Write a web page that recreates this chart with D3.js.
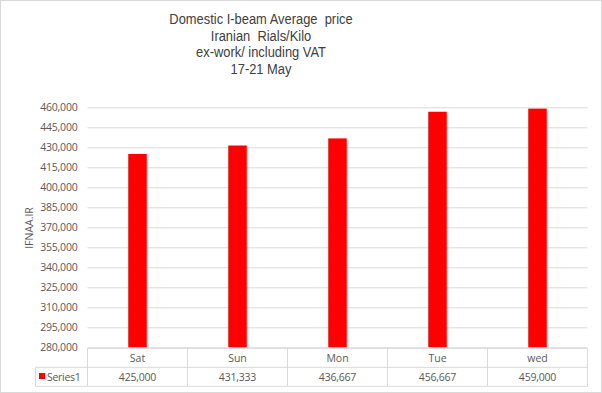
<!DOCTYPE html>
<html><head><meta charset="utf-8">
<script src="https://cdn.jsdelivr.net/npm/d3@7"></script>
<style>body{margin:0;background:#fff}svg{display:block}</style>
</head><body>
<script>
const categories = ["Sat", "Sun", "Mon", "Tue", "wed"];
const values = [425000, 431333, 436667, 456667, 459000];
const seriesName = "Series1";
const yTicks = [280000,295000,310000,325000,340000,355000,370000,385000,400000,415000,430000,445000,460000];
const titleLines = ["Domestic I-beam Average  price","Iranian  Rials/Kilo","ex-work/ including VAT","17-21 May"];
const yLabel = "IFNAA.IR";

(function(){
const W=602,H=393;
const svg=d3.select("body").append("svg").attr("width",W).attr("height",H);
svg.append("rect").attr("x",0.5).attr("y",0.5).attr("width",W-1).attr("height",H-1).attr("fill","#fff").attr("stroke","#d9d9d9");

const pL=87.5,pR=587.5,pT=107.3,pB=347.3;
const x=d3.scaleBand().domain(categories).range([pL,pR]);
const y=d3.scaleLinear().domain([280000,460000]).range([pB,pT]);
const fmt=d3.format(",");

const tf="'Liberation Sans',Arial,sans-serif";
const cf="'Open Sans','Noto Sans',sans-serif";

svg.append("g").attr("transform","translate(261,0) scale(0.89,1)")
 .selectAll("text").data(titleLines).join("text")
 .attr("x",0).attr("y",(d,i)=>24+i*16.7).attr("text-anchor","middle")
 .attr("font-family",tf).attr("font-size",14.5).attr("fill","#404040")
 .style("white-space","pre").text(d=>d);

const yAxis=d3.axisLeft(y).tickValues(yTicks).tickFormat(fmt).tickSize(-(pR-pL)).tickPadding(10);
const ga=svg.append("g").attr("transform",`translate(${pL},0)`).call(yAxis);
ga.select(".domain").remove();
ga.selectAll(".tick line").attr("stroke","#d9d9d9");
ga.selectAll(".tick text").attr("font-family",cf).attr("font-size",10.5).attr("fill","#595959").attr("letter-spacing","-0.2");

svg.append("text").attr("transform",`translate(33,228) rotate(-90)`).attr("text-anchor","middle")
 .attr("font-family",cf).attr("font-size",10.5).attr("fill","#595959").text(yLabel);

const bw=18.5;
svg.append("g").selectAll("rect").data(values).join("rect")
 .attr("x",(d,i)=>x(categories[i])+x.bandwidth()/2-bw/2).attr("width",bw)
 .attr("y",d=>y(d)).attr("height",d=>pB-y(d)).attr("fill","#ff0000");

const t0=348.3,t1=367.3,t2=386.3,tl=35.5;
const g=svg.append("g").attr("stroke","#d9d9d9").attr("fill","none");
g.append("line").attr("x1",pL).attr("x2",pR).attr("y1",t0).attr("y2",t0);
g.append("line").attr("x1",tl).attr("x2",pR).attr("y1",t1).attr("y2",t1);
g.append("line").attr("x1",tl).attr("x2",pR).attr("y1",t2).attr("y2",t2);
g.append("line").attr("x1",tl).attr("x2",tl).attr("y1",t1).attr("y2",t2);
[...categories.map(c=>x(c)),pR].forEach(v=>g.append("line").attr("x1",v).attr("x2",v).attr("y1",t0).attr("y2",t2));

svg.append("g").selectAll("text").data(categories).join("text")
 .attr("x",d=>x(d)+x.bandwidth()/2).attr("y",t0+13.5).attr("text-anchor","middle")
 .attr("font-family",cf).attr("font-size",10.5).attr("fill","#595959").text(d=>d);
svg.append("g").selectAll("text").data(values).join("text")
 .attr("x",(d,i)=>x(categories[i])+x.bandwidth()/2).attr("y",t1+13.5).attr("text-anchor","middle")
 .attr("font-family",cf).attr("font-size",10.5).attr("fill","#595959").attr("letter-spacing","-0.2").text(d=>fmt(d));
svg.append("rect").attr("x",39).attr("y",373).attr("width",6).attr("height",6).attr("fill","#ff0000");
svg.append("text").attr("x",47).attr("y",t1+13.5).attr("font-family",cf).attr("font-size",10.5).attr("fill","#595959").attr("letter-spacing","-0.3").text(seriesName);
})();
</script>
</body></html>
